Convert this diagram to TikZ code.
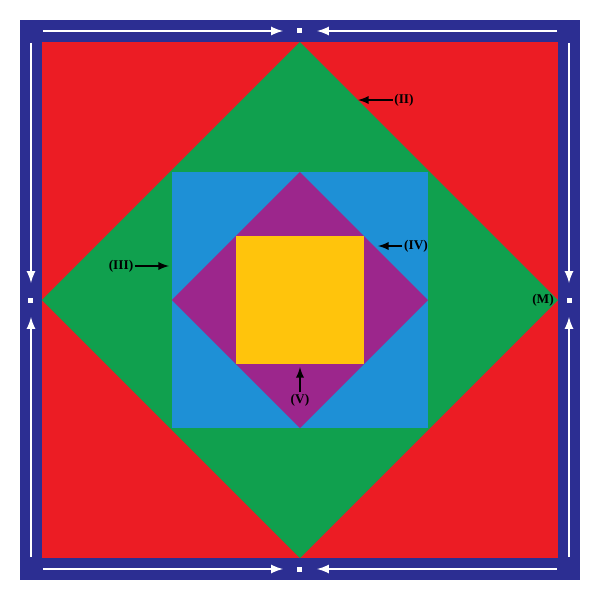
\documentclass[tikz,border=0pt]{standalone}
\usepackage{fontspec}
\setmainfont{Liberation Serif}
\definecolor{frameblue}{RGB}{44,46,146}
\definecolor{redbg}{RGB}{236,28,36}
\definecolor{greendia}{RGB}{16,160,78}
\definecolor{bluesq}{RGB}{30,144,214}
\definecolor{purpledia}{RGB}{156,38,140}
\definecolor{yellowsq}{RGB}{255,196,12}
\begin{document}
\begin{tikzpicture}[>=latex, x=0.25mm, y=0.25mm,
  lbl/.style={font=\fontsize{9.5}{11}\selectfont\bfseries, inner sep=1pt},
  pointer/.style={->, line width=1.6pt},
  track/.style={->, white, line width=1.9pt}]
\useasboundingbox (-300,-300) rectangle (300,300);
\fill[frameblue](-280,-280) rectangle (280,280);
\fill[redbg](-258,-258) rectangle (258,258);
\fill[greendia](0,258)--(258,0)--(0,-258)--(-258,0)--cycle;
\fill[bluesq](-128,-128) rectangle (128,128);
\fill[purpledia](0,128)--(128,0)--(0,-128)--(-128,0)--cycle;
\fill[yellowsq](-64,-64) rectangle (64,64);
% white track round the frame
\foreach \a in {0,90,180,270}{
  \begin{scope}[rotate=\a]
  \draw[track](-257,269)--(-17,269);
  \draw[track](257,269)--(17,269);
  \fill[white](-2.5,266.5) rectangle (2.5,271.5);
  \end{scope}}
% labels
\node[lbl](II) at (104,200){(II)};
\coordinate (IIp) at (58,200);
\draw[pointer](II.west)--(IIp);
\node[lbl](III) at (-179,34){(III)};
\coordinate (IIIp) at (-131,34);
\draw[pointer](III.east)--(IIIp);
\node[lbl](IV) at (116,54){(IV)};
\coordinate (IVp) at (78,54);
\draw[pointer](IV.west)--(IVp);
\node[lbl](V) at (0,-100){(V)};
\coordinate (Vp) at (0,-67);
\draw[pointer](V.north)--(Vp);
\node[lbl](M) at (243,0){(M)};
\end{tikzpicture}
\end{document}
